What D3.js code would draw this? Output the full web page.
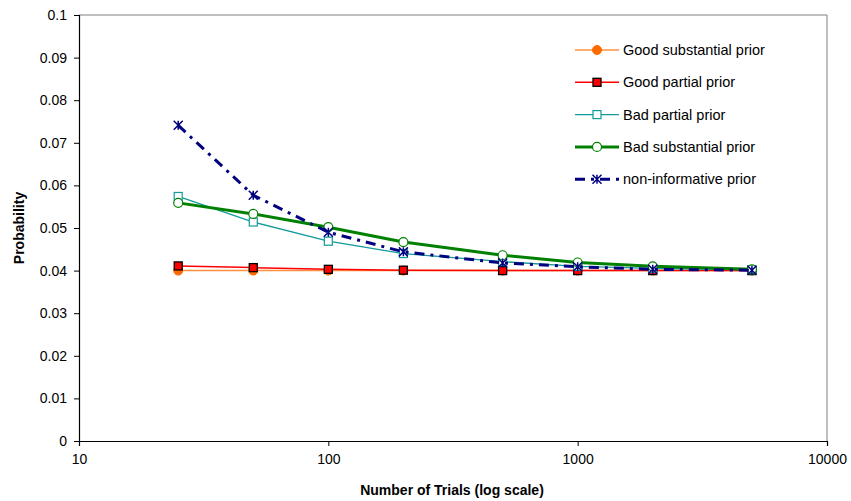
<!DOCTYPE html>
<html><head><meta charset="utf-8">
<script src="https://cdn.jsdelivr.net/npm/d3@7"></script>
<style>body{margin:0;background:#fff;} svg{display:block;} text{font-family:"Liberation Sans",Arial,sans-serif;}</style>
</head><body><svg id="c" width="851" height="501"></svg>
<script>
const trials = [25, 50, 100, 200, 500, 1000, 2000, 5000];
const goodSubstantial = [0.0400, 0.0400, 0.0400, 0.0400, 0.0400, 0.0400, 0.0400, 0.0400];
const goodPartial     = [0.0411, 0.0407, 0.0403, 0.0401, 0.0400, 0.0400, 0.0400, 0.0400];
const badPartial      = [0.0574, 0.0514, 0.0469, 0.0440, 0.0421, 0.0410, 0.0405, 0.0402];
const badSubstantial  = [0.0559, 0.0533, 0.0502, 0.0467, 0.0436, 0.0419, 0.0410, 0.0403];
const nonInformative  = [0.0741, 0.0577, 0.0490, 0.0444, 0.0418, 0.0409, 0.0403, 0.0401];
const xTicks = [10, 100, 1000, 10000];
const yTicks = [0, 0.01, 0.02, 0.03, 0.04, 0.05, 0.06, 0.07, 0.08, 0.09, 0.1];
const seriesNames = ["Good substantial prior", "Good partial prior", "Bad partial prior", "Bad substantial prior", "non-informative prior"];

const series = [
  {name: seriesNames[0], values: goodSubstantial, color: "#FF9040", width: 1.5, marker: "dot", mfill: "#FF6A00", mstroke: "#FF6A00", dash: null},
  {name: seriesNames[1], values: goodPartial, color: "#FF0000", width: 1.5, marker: "square", mfill: "#FF0000", mstroke: "#000", dash: null},
  {name: seriesNames[2], values: badPartial, color: "#139A9A", width: 1.3, marker: "osquare", mfill: "#fff", mstroke: "#139A9A", dash: null},
  {name: seriesNames[3], values: badSubstantial, color: "#008000", width: 3, marker: "ocircle", mfill: "none", mstroke: "#008000", dash: null},
  {name: seriesNames[4], values: nonInformative, color: "#000080", width: 3, marker: "star", mfill: "none", mstroke: "#000080", dash: "10,6,3,6"}
];

const svg = d3.select("#c");
const L = 79, R = 827, T = 15, B = 441;
const x = d3.scaleLog().domain([10, 10000]).range([L, R]);
const y = d3.scaleLinear().domain([0, 0.1]).range([B, T]);

// plot border
svg.append("line").attr("x1", L).attr("x2", R).attr("y1", T).attr("y2", T).attr("stroke", "#808080").attr("stroke-width", 1);
svg.append("line").attr("x1", R).attr("x2", R).attr("y1", T).attr("y2", B).attr("stroke", "#808080").attr("stroke-width", 1);

// axes
const yAxis = d3.axisLeft(y).tickValues(yTicks).tickSize(5).tickPadding(7).tickFormat(d => d3.format("")(+d.toFixed(2)));
const gy = svg.append("g").attr("transform", `translate(${L},0)`).call(yAxis);
const xAxis = d3.axisBottom(x).tickValues(xTicks).tickSize(5).tickPadding(8).tickFormat(d3.format("d"));
const gx = svg.append("g").attr("transform", `translate(0,${B})`).call(xAxis);
[gx, gy].forEach(g => {
  g.select(".domain").attr("stroke", "#000").attr("stroke-width", 1.2);
  g.selectAll(".tick line").attr("stroke", "#000");
  g.selectAll(".tick text").attr("font-size", 14).attr("fill", "#000").attr("font-family", "Liberation Sans, Arial, sans-serif");
});

svg.append("text").attr("x", 452).attr("y", 495).attr("text-anchor", "middle").attr("font-size", 14).attr("font-weight", "bold").text("Number of Trials (log scale)");
svg.append("text").attr("transform", "translate(24,228) rotate(-90)").attr("text-anchor", "middle").attr("font-size", 14).attr("font-weight", "bold").text("Probability");

function drawMarker(g, s, cx, cy) {
  if (s.marker === "dot") {
    g.append("circle").attr("cx", cx).attr("cy", cy).attr("r", 4.5).attr("fill", s.mfill).attr("stroke", s.mstroke);
  } else if (s.marker === "square") {
    g.append("rect").attr("x", cx - 4).attr("y", cy - 4).attr("width", 8).attr("height", 8).attr("fill", s.mfill).attr("stroke", s.mstroke).attr("stroke-width", 1.3);
  } else if (s.marker === "osquare") {
    g.append("rect").attr("x", cx - 4).attr("y", cy - 4).attr("width", 8).attr("height", 8).attr("fill", "#fff").attr("stroke", s.mstroke).attr("stroke-width", 1.2);
  } else if (s.marker === "ocircle") {
    g.append("circle").attr("cx", cx).attr("cy", cy).attr("r", 4.5).attr("fill", "#fff").attr("stroke", s.mstroke).attr("stroke-width", 1.2);
  } else if (s.marker === "star") {
    const r = 4.5;
    g.append("path").attr("d", `M${cx - r},${cy - r}L${cx + r},${cy + r}M${cx - r},${cy + r}L${cx + r},${cy - r}M${cx},${cy - r}L${cx},${cy + r}`)
      .attr("stroke", s.mstroke).attr("stroke-width", 1.5).attr("fill", "none");
  }
}

const line = d3.line().x(d => x(d[0])).y(d => y(d[1]));
series.forEach(s => {
  const pts = trials.map((t, i) => [t, s.values[i]]);
  svg.append("path").attr("d", line(pts)).attr("fill", "none").attr("stroke", s.color).attr("stroke-width", s.width)
    .attr("stroke-dasharray", s.dash);
  const g = svg.append("g");
  pts.forEach(p => drawMarker(g, s, x(p[0]), y(p[1])));
});

// legend
const lg = svg.append("g");
series.forEach((s, i) => {
  const ly = 50 + i * 32.3;
  lg.append("line").attr("x1", 575).attr("x2", 619).attr("y1", ly).attr("y2", ly).attr("stroke", s.color).attr("stroke-width", s.width)
    .attr("stroke-dasharray", s.dash);
  drawMarker(lg, s, 597, ly);
  lg.append("text").attr("x", 623).attr("y", ly + 5).attr("font-size", 14.5).attr("fill", "#000").text(s.name);
});
</script></body></html>
